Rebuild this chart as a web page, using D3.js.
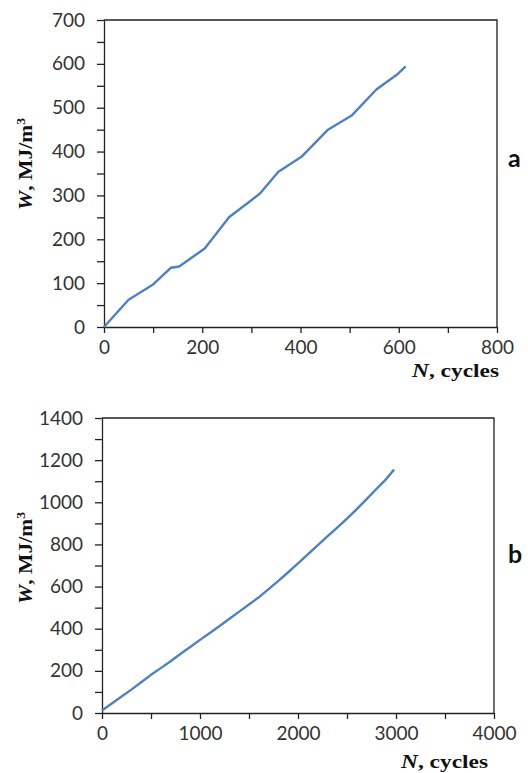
<!DOCTYPE html>
<html>
<head>
<meta charset="utf-8">
<script src="https://cdn.jsdelivr.net/npm/d3@7"></script>
<style>
  body { margin: 0; background: #fff; }
  .tick text { font-family: Lato, "Open Sans", sans-serif; font-size: 19px; fill: #333; }
  .domain, .tick line { stroke: #222; stroke-width: 1.3; }
  .ttl { font-family: "Liberation Serif", "Times New Roman", serif; font-weight: bold; fill: #111; }
  .tag { font-family: Lato, sans-serif; font-weight: bold; font-size: 25px; fill: #111; }
</style>
</head>
<body>
<svg id="chart" width="528" height="773"></svg>
<script>
// panel a: N (cycles) vs W (MJ/m3)
const cyclesA = [0, 50, 100, 136, 153, 205, 255, 300, 318, 355, 402, 455, 505, 555, 596, 614];
const energyA = [0, 62, 97, 135, 138, 179, 251, 289, 305, 354, 388, 449, 483, 542, 575, 594];

// panel b
const cyclesB = [0, 100, 200, 300, 400, 500, 600, 700, 800, 900, 1000, 1100, 1200, 1300, 1400, 1500,
  1600, 1700, 1800, 1900, 2000, 2100, 2200, 2300, 2400, 2500, 2600, 2700, 2800, 2900, 2980];
const energyB = [12, 45, 78, 111, 146, 181, 213, 246, 280, 313, 347, 380, 413, 447, 481, 515,
  549, 588, 627, 668, 710, 753, 795, 838, 880, 922, 968, 1015, 1063, 1110, 1155];

const panels = [
  { n: cyclesA, w: energyA, left: 104, right: 497, top: 20, bottom: 327,
    xMax: 800, xTick: 100, xLab: 200, yMax: 700, yTick: 50, yLab: 100,
    tag: 'a', tagY: 167, yTitleY: 164, xTitleX: 499, xTitleY: 377 },
  { n: cyclesB, w: energyB, left: 102, right: 494, top: 418, bottom: 713,
    xMax: 4000, xTick: 500, xLab: 1000, yMax: 1400, yTick: 100, yLab: 200,
    tag: 'b', tagY: 563, yTitleY: 558, xTitleX: 488, xTitleY: 768 }
];

const svg = d3.select('#chart');

panels.forEach(p => {
  const x = d3.scaleLinear().domain([0, p.xMax]).range([p.left, p.right]);
  const y = d3.scaleLinear().domain([0, p.yMax]).range([p.bottom, p.top]);

  // frame (top and right)
  svg.append('path')
    .attr('d', `M${p.left},${p.top}H${p.right}V${p.bottom}`)
    .attr('fill', 'none').attr('stroke', '#222').attr('stroke-width', 1.3);

  svg.append('g')
    .attr('transform', `translate(0,${p.bottom})`)
    .call(d3.axisBottom(x).tickValues(d3.range(0, p.xMax + 1, p.xTick))
      .tickSize(6).tickSizeOuter(0).tickPadding(8)
      .tickFormat(d => d % p.xLab === 0 ? d : ''));

  svg.append('g')
    .attr('transform', `translate(${p.left},0)`)
    .call(d3.axisLeft(y).tickValues(d3.range(0, p.yMax + 1, p.yTick))
      .tickSize(7).tickSizeOuter(0).tickPadding(12)
      .tickFormat(d => d % p.yLab === 0 ? d : ''));

  const line = d3.line().x((d, i) => x(p.n[i])).y(d => y(d));
  svg.append('path')
    .datum(p.w)
    .attr('d', line)
    .attr('fill', 'none')
    .attr('stroke', '#4f81bd')
    .attr('stroke-width', 2.4)
    .attr('stroke-linejoin', 'round');

  // x title
  const xt = svg.append('text').attr('class', 'ttl')
    .attr('x', p.xTitleX).attr('y', p.xTitleY)
    .attr('text-anchor', 'end').style('font-size', '19px')
    .attr('textLength', 87).attr('lengthAdjust', 'spacingAndGlyphs');
  xt.append('tspan').style('font-style', 'italic').text('N');
  xt.append('tspan').text(', cycles');

  // y title
  const yt = svg.append('text').attr('class', 'ttl')
    .attr('transform', `translate(32,${p.yTitleY + 46}) rotate(-90)`)
    .style('font-size', '19px')
    .attr('textLength', 92).attr('lengthAdjust', 'spacingAndGlyphs');
  yt.append('tspan').style('font-style', 'italic').text('W');
  yt.append('tspan').text(', MJ/m');
  yt.append('tspan').attr('dy', -7).style('font-size', '12px').text('3');

  svg.append('text').attr('class', 'tag')
    .attr('x', 508).attr('y', p.tagY).text(p.tag);
});
</script>
</body>
</html>
